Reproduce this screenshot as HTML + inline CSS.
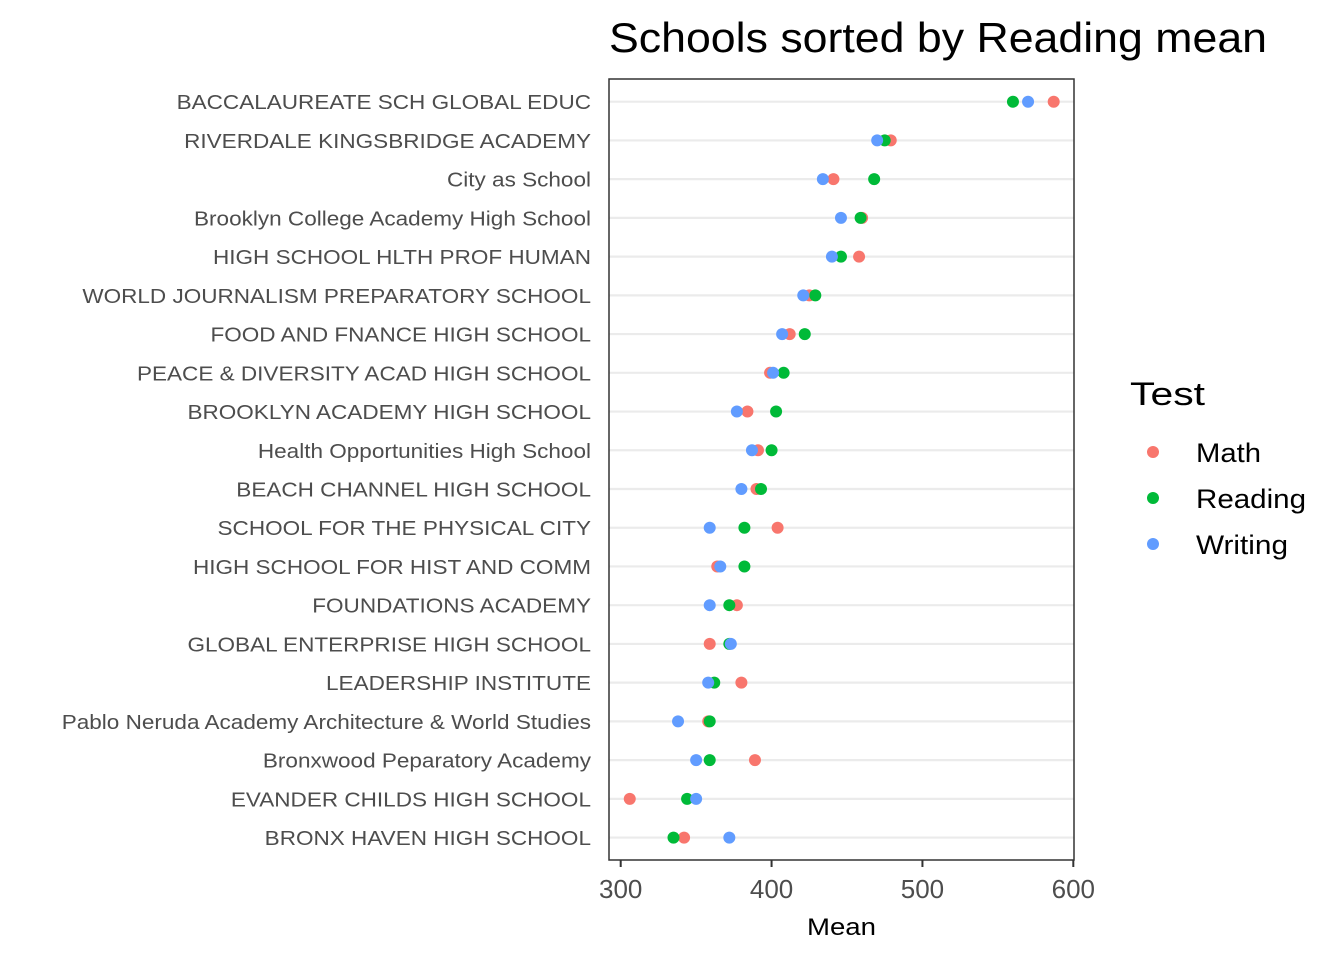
<!DOCTYPE html>
<html><head><meta charset="utf-8">
<style>
html,body{margin:0;padding:0;background:#fff;}
svg{display:block;font-family:"Liberation Sans",Arial,sans-serif;}
</style></head>
<body>
<svg id="chart" width="1344" height="960" viewBox="0 0 1344 960">
<text x="609" y="52" font-size="42" fill="#000" textLength="658" lengthAdjust="spacingAndGlyphs">Schools sorted by Reading mean</text>
<g id="grid"></g>
<g id="labels" transform="translate(591,0) scale(1.127,1) translate(-591,0)"></g>
<g id="points"></g>
<rect x="609" y="79" width="465" height="781" fill="none" stroke="#333" stroke-width="1.5"/>
<g id="xaxis"></g>
<text x="807" y="935" font-size="24" fill="#000" textLength="69" lengthAdjust="spacingAndGlyphs">Mean</text>
<g id="legend">
<text x="1130" y="405" font-size="32" fill="#000" textLength="75" lengthAdjust="spacingAndGlyphs">Test</text>
</g>
</svg>
<script>
const schools = ["BACCALAUREATE SCH GLOBAL EDUC","RIVERDALE KINGSBRIDGE ACADEMY","City as School","Brooklyn College Academy High School","HIGH SCHOOL HLTH PROF HUMAN","WORLD JOURNALISM PREPARATORY SCHOOL","FOOD AND FNANCE HIGH SCHOOL","PEACE & DIVERSITY ACAD HIGH SCHOOL","BROOKLYN ACADEMY HIGH SCHOOL","Health Opportunities High School","BEACH CHANNEL HIGH SCHOOL","SCHOOL FOR THE PHYSICAL CITY","HIGH SCHOOL FOR HIST AND COMM","FOUNDATIONS ACADEMY","GLOBAL ENTERPRISE HIGH SCHOOL","LEADERSHIP INSTITUTE","Pablo Neruda Academy Architecture & World Studies","Bronxwood Peparatory Academy","EVANDER CHILDS HIGH SCHOOL","BRONX HAVEN HIGH SCHOOL"];
const mathVals = [587,479,441,460,458,425,412,399,384,391,390,404,364,377,359,380,358,389,306,342];
const readingVals = [560,475,468,459,446,429,422,408,403,400,393,382,382,372,372,362,359,359,344,335];
const writingVals = [570,470,434,446,440,421,407,401,377,387,380,359,366,359,373,358,338,350,350,372];
const xTicks = [300,400,500,600];
const seriesNames = ["Math","Reading","Writing"];
const seriesColors = ["#F8766D","#00BA38","#619CFF"];

const ns="http://www.w3.org/2000/svg";
const X0=620.7, K=1.5087, Y0=101.7, DY=38.73;
const xs=v=>X0+(v-300)*K;
const ys=i=>Y0+i*DY;
function mk(tag,attrs,parent){const e=document.createElementNS(ns,tag);for(const k in attrs)e.setAttribute(k,attrs[k]);parent.appendChild(e);return e;}
const grid=document.getElementById('grid'),labels=document.getElementById('labels'),pts=document.getElementById('points'),xa=document.getElementById('xaxis'),lg=document.getElementById('legend');
schools.forEach((s,i)=>{
  const l=mk('line',{x1:609,x2:1074,y1:ys(i),y2:ys(i),stroke:'#ebebeb','stroke-width':2.2},grid);
  
  
  const t=mk('text',{x:591,y:ys(i)+7.5,'font-size':20,'text-anchor':'end',fill:'#4d4d4d'},labels);
  t.textContent=s;
  
  
});
const series=[mathVals,readingVals,writingVals];
series.forEach((arr,si)=>{
  arr.forEach((v,i)=>{
    const c=mk('circle',{cx:xs(v),cy:ys(i),r:6,fill:seriesColors[si]},pts);
    
    
  });
});
xTicks.forEach(v=>{
  const tk=mk('line',{x1:xs(v),x2:xs(v),y1:860,y2:867,stroke:'#333','stroke-width':2},xa);
  
  
  const t=mk('text',{x:xs(v),y:898,'font-size':26,'text-anchor':'middle',fill:'#4d4d4d'},xa);
  t.textContent=v;
  
  
});
const legendLens=[65,110,92];
seriesNames.forEach((n,i)=>{
  const y=452+i*46;
  const c=mk('circle',{cx:1153,cy:y,r:6,fill:seriesColors[i]},lg);
  
  
  const t=mk('text',{x:1196,y:y+10,'font-size':27,fill:'#000',textLength:legendLens[i],lengthAdjust:'spacingAndGlyphs'},lg);
  t.textContent=n;
  
  
});
</script>
</body></html>
